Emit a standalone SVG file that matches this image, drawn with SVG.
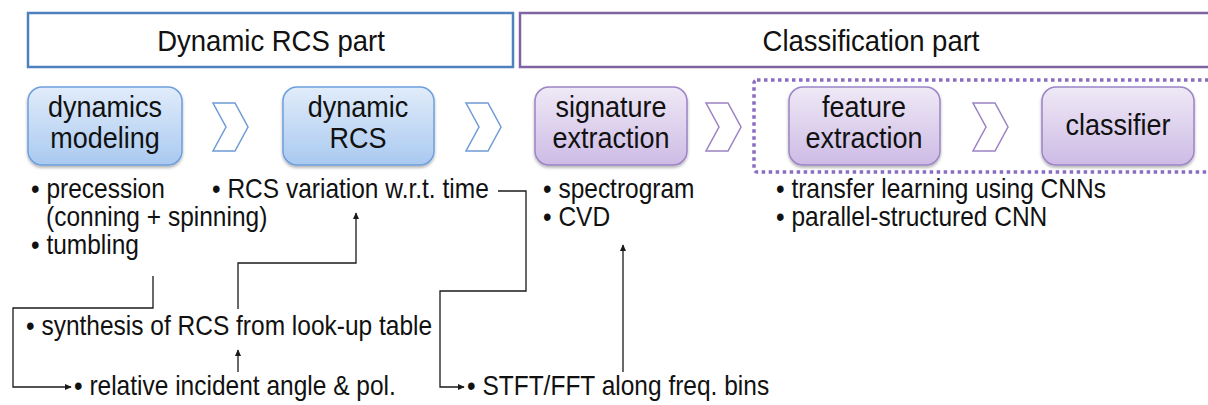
<svg xmlns="http://www.w3.org/2000/svg" width="1208" height="405" viewBox="0 0 1208 405">
  <defs>
    <linearGradient id="gBlue" x1="0" y1="0" x2="0" y2="1">
      <stop offset="0" stop-color="#e1ecfa"/>
      <stop offset="1" stop-color="#a9c9f0"/>
    </linearGradient>
    <linearGradient id="gPurple" x1="0" y1="0" x2="0" y2="1">
      <stop offset="0" stop-color="#efe9f6"/>
      <stop offset="1" stop-color="#cdbbe5"/>
    </linearGradient>
    <filter id="shadow" x="-10%" y="-10%" width="120%" height="130%">
      <feDropShadow dx="0" dy="2" stdDeviation="1.5" flood-color="#000" flood-opacity="0.3"/>
    </filter>
    <marker id="arrow" viewBox="0 0 8 8" refX="7" refY="4" markerWidth="7" markerHeight="7" markerUnits="userSpaceOnUse" orient="auto">
      <path d="M0,0.5 L8,4 L0,7.5 Z" fill="#1a1a1a"/>
    </marker>
    <style>
      text { font-family: "Liberation Sans", Arial, sans-serif; fill: #111; }
      .hdr { font-size: 27.5px; text-anchor: middle; }
      .lbl { font-size: 27px; text-anchor: middle; }
      .bul { font-size: 24.5px; }
      .blueNode { fill: url(#gBlue); stroke: #6e9fdc; stroke-width: 1.5; filter: url(#shadow); }
      .purpleNode { fill: url(#gPurple); stroke: #9c84c6; stroke-width: 1.5; filter: url(#shadow); }
      .chevBlue { fill: #fff; stroke: #6f9bd6; stroke-width: 1.5; }
      .chevPurple { fill: #fff; stroke: #9a82c4; stroke-width: 1.5; }
      .wire { fill: none; stroke: #1a1a1a; stroke-width: 1.3; }
    </style>
  </defs>

  <rect width="1208" height="405" fill="#fff"/>

  <!-- section headers (text slightly stretched vertically) -->
  <g id="header-dynamic">
    <rect x="28" y="13" width="485" height="54" fill="#fff" stroke="#4f81bd" stroke-width="2.5"/>
    <text class="hdr" transform="translate(271,51) scale(1,1.1)">Dynamic RCS part</text>
  </g>
  <g id="header-classification">
    <rect x="520" y="13" width="700" height="54" fill="#fff" stroke="#8064a2" stroke-width="2.5"/>
    <text class="hdr" transform="translate(871,51) scale(1,1.1)">Classification part</text>
  </g>

  <!-- dotted grouping of the learning stages -->
  <g id="learning-group">
    <rect x="754" y="80" width="470" height="92" rx="3" fill="none" stroke="#8a6cc0" stroke-width="3.5" stroke-dasharray="3.5 3.5"/>
  </g>

  <!-- process nodes -->
  <g id="node-dynamics-modeling">
    <rect class="blueNode" x="28" y="87" width="154" height="78" rx="14"/>
    <text class="lbl" transform="translate(105,117) scale(1,1.1)">dynamics</text>
    <text class="lbl" transform="translate(105,148) scale(1,1.1)">modeling</text>
  </g>
  <g id="node-dynamic-rcs">
    <rect class="blueNode" x="283" y="87" width="151" height="78" rx="14"/>
    <text class="lbl" transform="translate(358,117) scale(1,1.1)">dynamic</text>
    <text class="lbl" transform="translate(358,148) scale(1,1.1)">RCS</text>
  </g>
  <g id="node-signature-extraction">
    <rect class="purpleNode" x="535" y="87" width="152" height="78" rx="14"/>
    <text class="lbl" transform="translate(611,117) scale(1,1.1)">signature</text>
    <text class="lbl" transform="translate(611,148) scale(1,1.1)">extraction</text>
  </g>
  <g id="node-feature-extraction">
    <rect class="purpleNode" x="789" y="87" width="151" height="78" rx="14"/>
    <text class="lbl" transform="translate(864,117) scale(1,1.1)">feature</text>
    <text class="lbl" transform="translate(864,148) scale(1,1.1)">extraction</text>
  </g>
  <g id="node-classifier">
    <rect class="purpleNode" x="1042" y="87" width="152" height="78" rx="14"/>
    <text class="lbl" transform="translate(1118,135) scale(1,1.1)">classifier</text>
  </g>

  <!-- chevrons between stages -->
  <g id="chevrons">
    <polygon class="chevBlue" points="213,103 235,103 248,127 235,151 213,151 226,127"/>
    <polygon class="chevBlue" points="466,103 488,103 501,127 488,151 466,151 479,127"/>
    <polygon class="chevPurple" points="706,103 728,103 741,127 728,151 706,151 719,127"/>
    <polygon class="chevPurple" points="973,103 995,103 1008,127 995,151 973,151 986,127"/>
  </g>

  <!-- bullet notes -->
  <g id="notes">
    <text class="bul" transform="translate(31,198) scale(1,1.1)">• precession</text>
    <text class="bul" transform="translate(46,226) scale(1,1.1)">(conning + spinning)</text>
    <text class="bul" transform="translate(31,254) scale(1,1.1)">• tumbling</text>
    <text class="bul" transform="translate(212,198) scale(1,1.1)">• RCS variation w.r.t. time</text>
    <text class="bul" transform="translate(543,198) scale(1,1.1)">• spectrogram</text>
    <text class="bul" transform="translate(543,226) scale(1,1.1)">• CVD</text>
    <text class="bul" transform="translate(776,198) scale(1,1.1)">• transfer learning using CNNs</text>
    <text class="bul" transform="translate(776,226) scale(1,1.1)">• parallel-structured CNN</text>
    <text class="bul" transform="translate(26,335) scale(1,1.1)">• synthesis of RCS from look-up table</text>
    <text class="bul" transform="translate(74,395) scale(1,1.1)">• relative incident angle &amp; pol.</text>
    <text class="bul" transform="translate(467,395) scale(1,1.1)">• STFT/FFT along freq. bins</text>
  </g>

  <!-- connectors -->
  <g id="connectors">
    <path class="wire" d="M153,276 V308 H13 V387 H71" marker-end="url(#arrow)"/>
    <path class="wire" d="M238,309 V263 H356 V213" marker-end="url(#arrow)"/>
    <path class="wire" d="M238,372 V350" marker-end="url(#arrow)"/>
    <path class="wire" d="M498,191 H526 V291 H440 V387 H464" marker-end="url(#arrow)"/>
    <path class="wire" d="M623,372 V245" marker-end="url(#arrow)"/>
  </g>
</svg>
